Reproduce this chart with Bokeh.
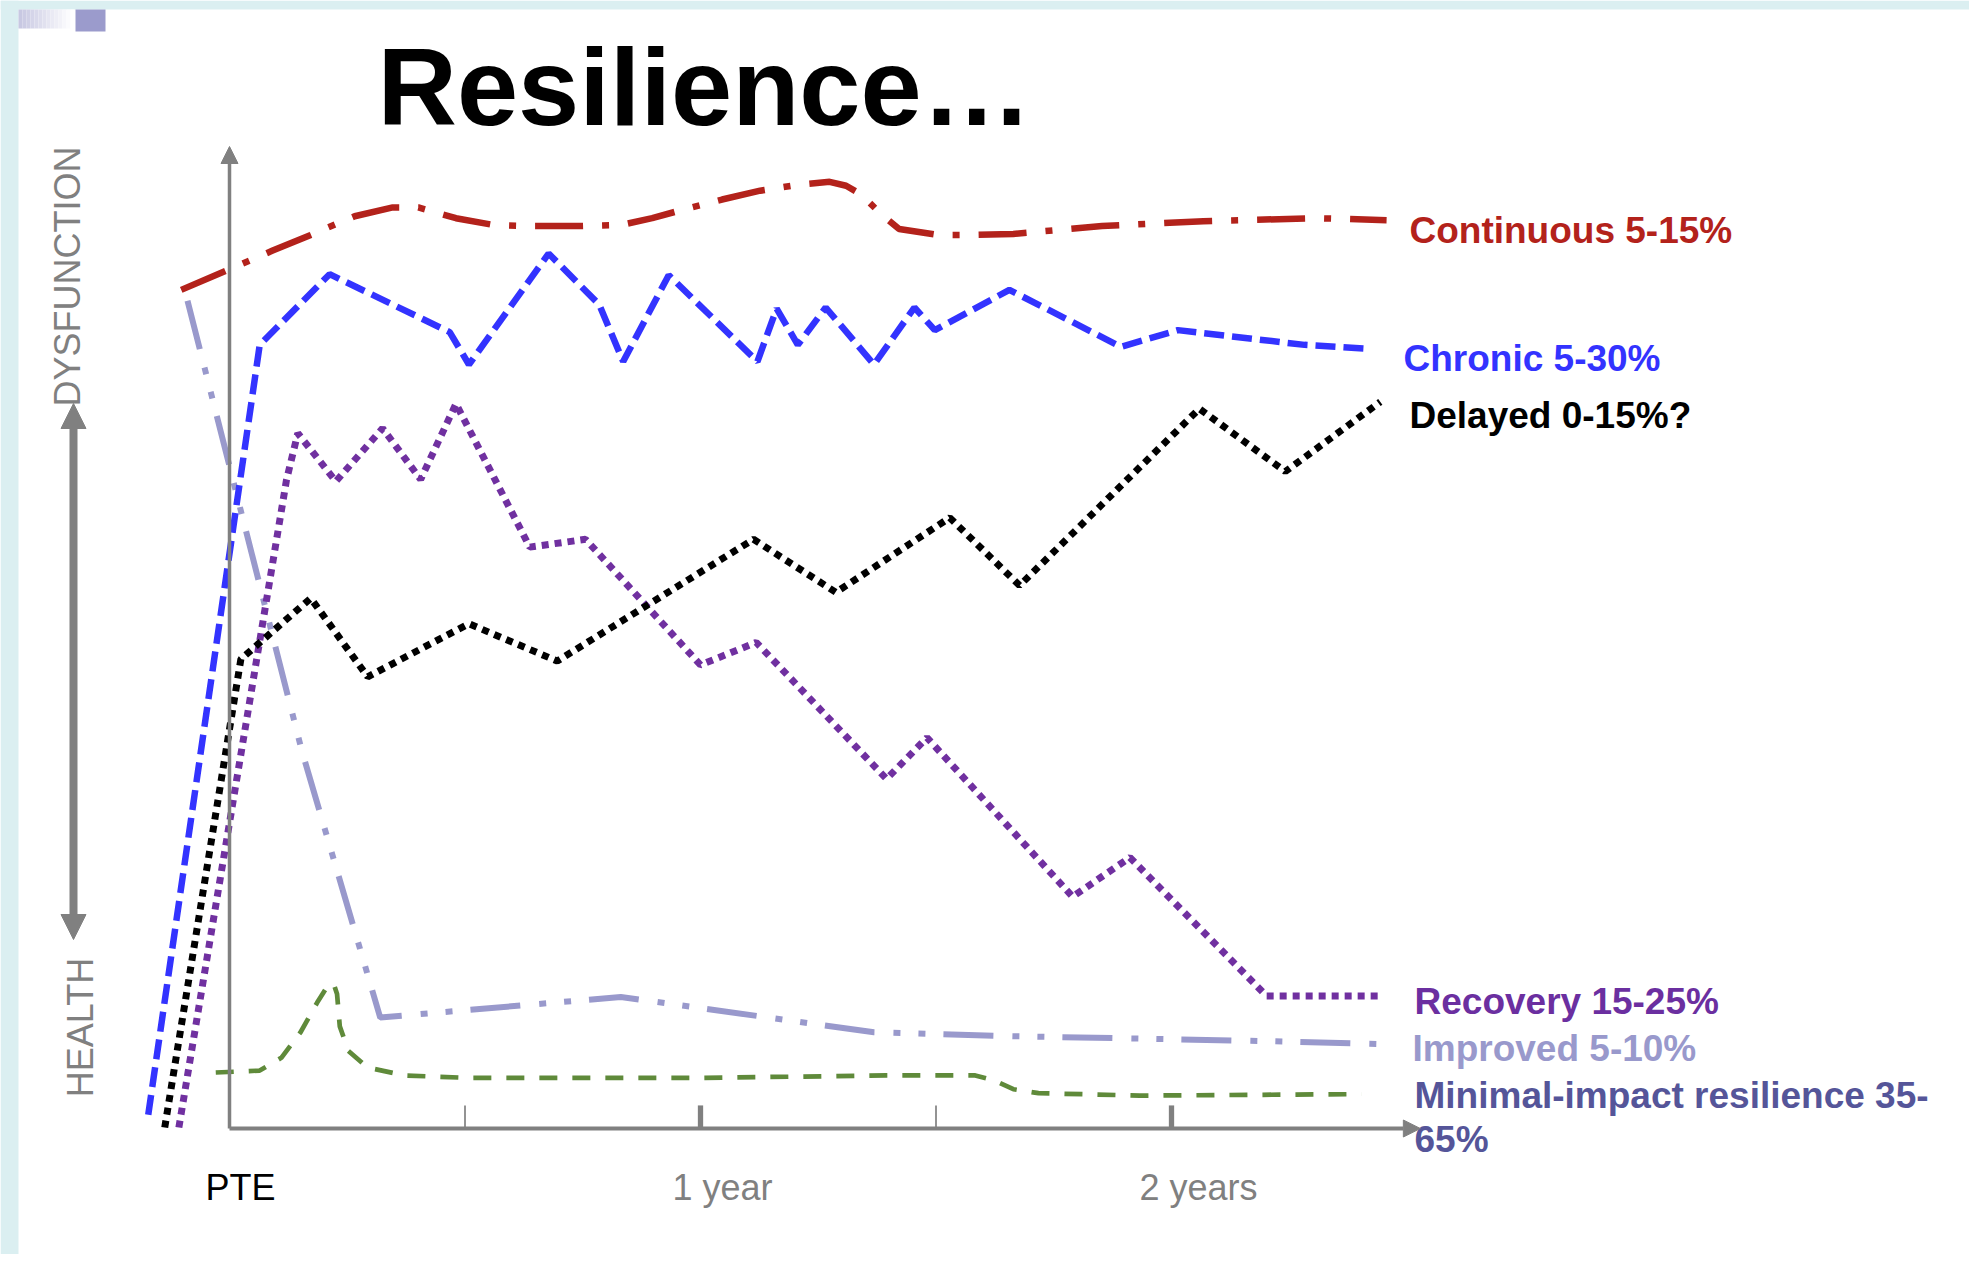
import math
from bokeh.plotting import figure
from bokeh.models import Range1d, Arrow, NormalHead, BoxAnnotation
from bokeh.core.properties import value
from bokeh.embed import file_html
from bokeh.resources import INLINE

# ---------------- data (months after the event, dysfunction level 0-100) ----------------
continuous_x = [-1.23, 0.0, 1.10, 2.07, 3.19, 4.16, 4.81, 5.77, 6.74, 7.71, 9.0, 9.97, 10.77,
                11.58, 12.55, 13.52, 14.48, 15.29, 15.71, 16.1, 16.58, 17.06, 18.03, 19.0,
                19.97, 22.23, 24.81, 27.71, 29.48]
continuous_y = [85.4, 87.5, 89.4, 91.0, 92.9, 93.8, 93.8, 92.7, 92.0, 91.9, 91.9, 92.0, 92.7,
                93.6, 94.6, 95.5, 96.1, 96.4, 96.0, 95.1, 93.2, 91.6, 91.0, 91.0,
                91.1, 91.9, 92.4, 92.7, 92.5]

chronic_x = [-2.07, 0.77, 2.55, 5.61, 6.10, 8.13, 9.42, 10.03, 11.19, 13.45, 13.94, 14.48,
             15.19, 16.42, 17.45, 17.97, 19.87, 22.71, 24.16, 27.39, 29.0]
chronic_y = [1.4, 79.8, 87.0, 81.1, 77.8, 89.1, 83.9, 78.1, 86.9, 78.1, 83.5, 79.8,
             83.6, 77.8, 83.6, 81.3, 85.4, 79.6, 81.3, 79.8, 79.4]

delayed_x = [-1.65, 0.29, 2.07, 3.52, 6.10, 8.35, 13.35, 15.45, 18.35, 20.13, 24.71, 26.9, 29.32]
delayed_y = [0.1, 47.8, 54.0, 46.0, 51.4, 47.6, 60.0, 54.6, 62.2, 55.3, 73.3, 66.9, 74.0]

recovery_x = [-1.29, 1.45, 1.74, 2.71, 3.90, 4.87, 5.77, 7.65, 9.07, 12.0, 13.42, 16.74,
              17.77, 21.48, 22.94, 26.42, 29.39]
recovery_y = [0.1, 66.0, 70.8, 65.9, 71.3, 66.1, 73.8, 59.2, 60.0, 47.2, 49.5, 35.6,
              39.8, 23.6, 27.6, 13.5, 13.5]

improved_x = [-1.07, 1.84, 3.84, 9.97, 16.42, 19.97, 26.42, 29.32]
improved_y = [84.3, 38.5, 11.3, 13.4, 9.8, 9.4, 8.9, 8.6]

minimal_x = [-0.35, 0.77, 1.32, 1.81, 2.23, 2.48, 2.65, 2.74, 2.81, 3.03, 3.52, 4.48, 6.10,
             11.9, 16.74, 19.0, 19.48, 19.97, 20.61, 23.19, 28.84]
minimal_y = [5.7, 5.9, 7.2, 9.8, 12.8, 14.4, 14.8, 13.7, 10.4, 7.9, 6.2, 5.4, 5.15,
             5.15, 5.4, 5.4, 4.9, 4.0, 3.6, 3.35, 3.5]

series_labels = ["Continuous 5-15%", "Chronic 5-30%", "Delayed 0-15%?",
                 "Recovery 15-25%", "Improved 5-10%", "Minimal-impact resilience 35-"]
minimal_label_cont = "65%"

tick_months = [0, 12, 24]
tick_labels = ["PTE", "1 year", "2 years"]
minor_tick_months = [6, 18]
major_tick_months = [12, 24]
axis_top = 100
axis_right = 30.34

title_text = "Resilience\u2026"
y_label_top = "DYSFUNCTION"
y_label_bottom = "HEALTH"

# ---------------- layout helpers (slide pixels -> data units) ----------------
X0, PXM = 229.0, 39.25     # x pixel of month 0, pixels per month
Y0, PYV = 1128.0, 9.82     # y pixel of level 0, pixels per level unit
BASE_SHIFT = 0.35          # text baseline correction, in em


def mx(px):
    return (px - X0) / PXM


def vy(py):
    return (Y0 - py) / PYV


def base_y(py, fs):
    return vy(py - BASE_SHIFT * fs)


W, H = 1969, 1254
p = figure(width=W, height=H, x_range=Range1d(mx(0), mx(W)),
           y_range=Range1d(vy(H), vy(0)), output_backend="svg",
           toolbar_location=None, min_border=0, x_axis_type=None, y_axis_type=None,
           outline_line_color=None, background_fill_color="white",
           border_fill_color="white")

FONT = value("Liberation Sans")
GRAY = "#808080"

# slide decorations
p.add_layout(BoxAnnotation(right=mx(18), fill_color="#dbeff1", fill_alpha=1,
                           line_color=None, level="underlay"))
p.add_layout(BoxAnnotation(bottom=vy(9), fill_color="#dbeff1", fill_alpha=1,
                           line_color=None, level="underlay"))
n_steps = 14
for i in range(n_steps):
    t = i / (n_steps - 1)
    c0 = (200, 200, 226)
    col = "#%02x%02x%02x" % tuple(int(round(a + (255 - a) * t)) for a in c0)
    x_l = 18 + (74 - 18) * i / n_steps
    x_r = 18 + (74 - 18) * (i + 1) / n_steps
    p.quad(left=[mx(x_l)], right=[mx(x_r)], top=[vy(9)], bottom=[vy(28)],
           fill_color=col, line_color=None)
p.quad(left=[mx(75)], right=[mx(105)], top=[vy(9)], bottom=[vy(31)],
       fill_color="#9b9bcc", line_color=None)

# title
p.text(x=[mx(377)], y=[base_y(124, 110)], text=[title_text], text_font=FONT,
       text_font_style="bold", text_font_size="110px", text_color="black",
       text_align="left", text_baseline="alphabetic")

# axes
p.add_layout(Arrow(x_start=0, y_start=0, x_end=0, y_end=axis_top, line_color=GRAY,
                   line_width=3.5,
                   end=NormalHead(size=17, fill_color=GRAY, line_color=GRAY)))
p.add_layout(Arrow(x_start=0, y_start=0, x_end=axis_right, y_end=0, line_color=GRAY,
                   line_width=4,
                   end=NormalHead(size=17, fill_color=GRAY, line_color=GRAY)))
tick_h = 2.35
p.segment(x0=minor_tick_months, y0=[0] * len(minor_tick_months), x1=minor_tick_months,
          y1=[tick_h] * len(minor_tick_months), line_color=GRAY, line_width=1.7)
p.segment(x0=major_tick_months, y0=[0] * len(major_tick_months), x1=major_tick_months,
          y1=[tick_h] * len(major_tick_months), line_color=GRAY, line_width=5.3)

tick_offsets = [11, 22, 27]
tick_colors = ["black", GRAY, GRAY]
p.text(x=tick_months, y=[base_y(1200, 36)] * 3, text=tick_labels, x_offset=tick_offsets,
       text_font=FONT, text_font_size="36px", text_color=tick_colors,
       text_align="center", text_baseline="alphabetic")

# y-axis side labels and double arrow
p.text(x=[mx(80 - BASE_SHIFT * 36)], y=[vy(276)], text=[y_label_top], angle=math.pi / 2,
       text_font=FONT, text_font_size="36px", text_color=GRAY, text_align="center",
       text_baseline="alphabetic")
p.text(x=[mx(93 - BASE_SHIFT * 36)], y=[vy(1027)], text=[y_label_bottom], angle=math.pi / 2,
       text_font=FONT, text_font_size="36px", text_color=GRAY, text_align="center",
       text_baseline="alphabetic")
p.add_layout(Arrow(x_start=mx(73), y_start=vy(939), x_end=mx(73), y_end=vy(403),
                   line_color=GRAY, line_width=8,
                   start=NormalHead(size=25, fill_color=GRAY, line_color=GRAY),
                   end=NormalHead(size=25, fill_color=GRAY, line_color=GRAY)))

# trajectories
RED, BLUE, BLACK, PURPLE, LAV, GREEN = "#b3221b", "#3333ff", "#000000", "#7030a0", "#9999cc", "#5f8a3a"
p.line(minimal_x, minimal_y, line_color=GREEN, line_width=4.7, line_dash="18 15")
p.line(improved_x, improved_y, line_color=LAV, line_width=6, line_dash="50 19 7 18 7 18")
p.line(continuous_x, continuous_y, line_color=RED, line_width=6.5, line_dash="48 19 7 19")
p.line(chronic_x, chronic_y, line_color=BLUE, line_width=6.5, line_dash="20 8")
p.line(recovery_x, recovery_y, line_color=PURPLE, line_width=7, line_dash="7 6")
p.line(delayed_x, delayed_y, line_color=BLACK, line_width=7, line_dash="7 6")

# series labels
label_colors = [RED, BLUE, BLACK, "#6b2fa0", LAV, "#555599"]
label_px = [1409, 1403, 1409, 1414, 1412, 1414]
label_baseline_py = [243, 371, 428, 1014, 1061, 1108]
p.text(x=[mx(v) for v in label_px], y=[base_y(v, 37) for v in label_baseline_py],
       text=series_labels, text_font=FONT, text_font_style="bold", text_font_size="37px",
       text_color=label_colors, text_align="left", text_baseline="alphabetic")
p.text(x=[mx(1414)], y=[base_y(1152, 37)], text=[minimal_label_cont], text_font=FONT,
       text_font_style="bold", text_font_size="37px", text_color="#555599",
       text_align="left", text_baseline="alphabetic")

open("out.html", "w").write(file_html(p, INLINE))
